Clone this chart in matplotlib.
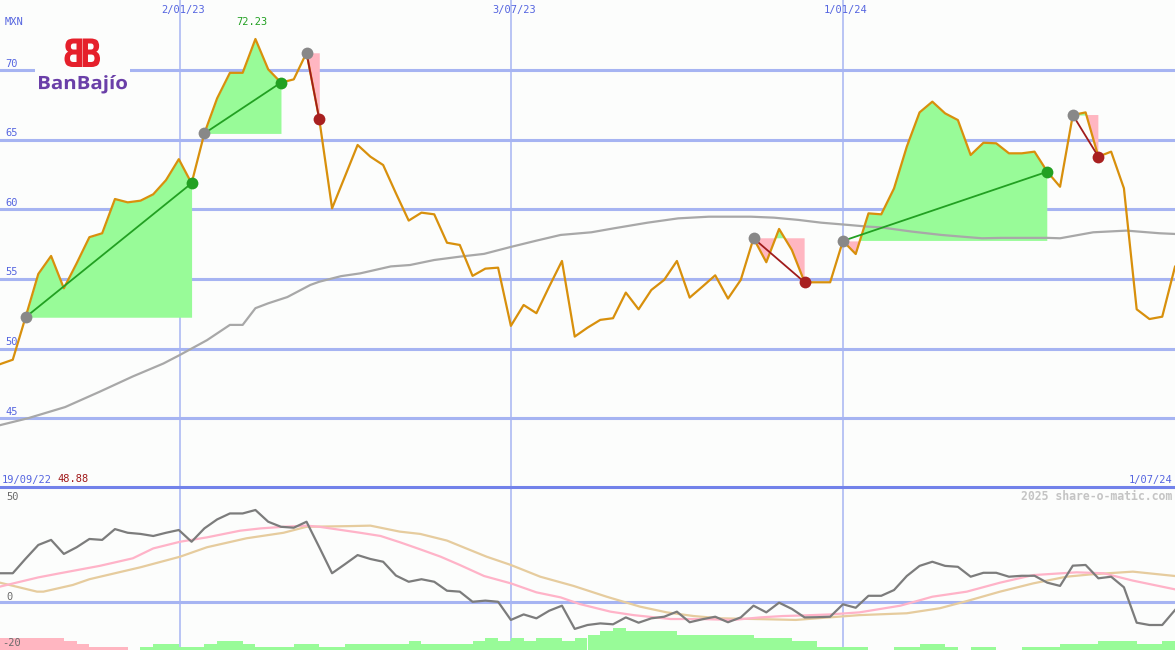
import matplotlib.pyplot as plt
import numpy as np
from matplotlib.textpath import TextPath
from matplotlib.font_manager import FontProperties
from matplotlib.patches import PathPatch, Rectangle
from matplotlib.transforms import Affine2D

# weekly closing prices (MXN), 19/09/22 .. 1/07/24
price = [48.88, 49.2, 52.25, 55.36, 56.65, 54.33, 56.12, 58.0, 58.28, 60.74,
         60.5, 60.62, 61.08, 62.1, 63.6, 61.87, 65.45, 67.97, 69.8, 69.8,
         72.23, 70.05, 69.1, 69.33, 71.24, 66.46, 60.07, 62.34, 64.62, 63.78,
         63.18, 61.15, 59.19, 59.76, 59.64, 57.6, 57.44, 55.22, 55.74, 55.81,
         51.63, 53.13, 52.54, 54.45, 56.29, 50.86, 51.5, 52.06, 52.18, 54.02,
         52.82, 54.21, 54.93, 56.29, 53.66, 54.45, 55.26, 53.59, 54.93, 57.92,
         56.2, 58.59, 57.08, 54.76, 54.76, 54.76, 57.73, 56.79, 59.71, 59.64,
         61.5, 64.5, 66.96, 67.73, 66.89, 66.41, 63.9, 64.78, 64.74, 64.02,
         64.02, 64.14, 62.7, 61.62, 66.77, 66.96, 63.78, 64.14, 61.51, 52.82,
         52.12, 52.29, 55.88]

# long moving average (read at these week positions)
ma_weeks = [0, 2.2, 5.1, 7.8, 10.4, 12.8, 14.1, 16.2, 18, 19, 20, 21, 22.5, 24.3,
            25, 26.7, 28.2, 30.6, 32.1, 34, 36, 37.9, 40, 42, 43.9, 46.3, 48.1,
            50.7, 53.1, 55.5, 58.8, 60.6, 62.5, 64.3, 66.4, 67.9, 69, 71.4, 73.7,
            75.8, 76.9, 78.4, 82, 83, 85.6, 88.2, 90.8, 92]
ma_vals = [44.5, 45.0, 45.8, 46.9, 48.0, 48.93, 49.55, 50.6, 51.7, 51.7, 52.9,
           53.25, 53.7, 54.57, 54.8, 55.2, 55.4, 55.9, 56.0, 56.36, 56.6, 56.8,
           57.3, 57.75, 58.16, 58.35, 58.64, 59.04, 59.35, 59.47, 59.47, 59.4,
           59.24, 59.04, 58.88, 58.76, 58.7, 58.4, 58.16, 58.0, 57.92, 57.95,
           57.95, 57.92, 58.35, 58.47, 58.28, 58.23]

# trades: entry / exit week index
trade_entry = [2, 16, 24, 59, 66, 84]
trade_exit = [15, 22, 25, 63, 82, 86]

# lower panel oscillator
osc = [12.5, 12.5, 18.8, 24.8, 27.0, 20.9, 23.8, 27.4, 27.0, 31.7,
       30.1, 29.6, 28.7, 30.1, 31.3, 26.2, 32.0, 35.9, 38.5, 38.5,
       40.0, 34.9, 32.7, 32.3, 34.9, 23.8, 12.5, 16.4, 20.4, 18.7,
       17.5, 11.5, 8.8, 9.9, 8.8, 4.9, 4.5, 0.1, 0.6, 0.1,
       -7.8, -5.4, -7.1, -3.8, -1.6, -11.7, -10.0, -9.3, -9.7, -6.7,
       -9.0, -7.1, -6.4, -4.2, -8.8, -7.5, -6.4, -8.8, -6.7, -1.6,
       -4.5, -0.3, -3.0, -6.7, -6.6, -6.4, -1.0, -2.5, 2.7, 2.7,
       5.2, 11.3, 15.7, 17.5, 15.7, 15.3, 11.0, 12.7, 12.7, 11.0,
       11.4, 11.4, 8.4, 7.0, 15.8, 16.1, 10.3, 11.0, 6.4, -9.0,
       -10.0, -10.0, -3.5]

sig_weeks = [0, 3, 4.7, 7.8, 10.4, 12, 14.1, 16.2, 18.8, 20.4, 22.2, 24, 25,
             28.2, 29.8, 31.3, 32.9, 34.5, 36, 37.9, 40, 42, 43.9, 45.4, 47.8,
             49.6, 52.5, 54.8, 57.4, 59.5, 61.3, 62.6, 65, 67.3, 70.5, 73, 75.7,
             78.3, 80.9, 84.3, 86.4, 88.7, 92]
sig_vals = [6.7, 10.7, 12.5, 15.7, 19.0, 23.3, 26.2, 28.1, 31.0, 32.0, 32.7,
            33.2, 32.7, 30.1, 28.7, 26.0, 22.9, 19.7, 16.1, 11.3, 8.1, 4.2, 2.0,
            -0.9, -4.2, -5.7, -7.4, -7.4, -7.8, -6.7, -6.1, -5.9, -5.4, -4.5,
            -1.6, 2.3, 4.5, 8.4, 11.7, 12.9, 12.5, 9.3, 5.5]

slow_weeks = [0, 2.9, 3.4, 5.7, 7, 11, 14.1, 16.2, 19.3, 22.2, 24, 27.4, 29,
              31.3, 32.9, 35, 36.5, 38.1, 40, 42.3, 44.9, 47.5, 50.1, 52.2,
              54.3, 56.4, 60, 62.3, 67.3, 71, 73.6, 75.7, 78.3, 80.9, 83.5,
              85.4, 88.7, 92]
slow_vals = [8.4, 4.5, 4.5, 7.4, 9.9, 15.1, 19.7, 23.8, 27.7, 30.1, 32.7, 33.0,
             33.2, 30.6, 29.6, 26.7, 23.3, 19.7, 16.1, 11.0, 7.0, 2.3, -2.0,
             -4.5, -6.1, -7.1, -7.5, -7.8, -5.7, -4.9, -2.7, 0.4, 4.5, 8.1,
             11.0, 12.0, 13.2, 11.3]

# histogram (negative = pink, positive = green)
hist = [-5.2, -5.2, -5.2, -5.2, -5.2, -3.9, -2.7, -1.3, -1.3, -1.3,
        0, 1.3, 2.7, 2.7, 1.3, 1.3, 2.7, 3.9, 3.9, 2.7,
        1.3, 1.3, 1.3, 2.7, 2.7, 1.3, 1.3, 2.7, 2.7, 2.7,
        2.7, 2.7, 3.9, 2.7, 2.7, 2.7, 2.7, 3.9, 5.2, 3.9,
        5.2, 3.9, 5.2, 5.2, 3.9, 5.2, 6.5, 8.3, 9.7, 8.3,
        8.3, 8.3, 8.3, 6.5, 6.5, 6.5, 6.5, 6.5, 6.5, 5.2,
        5.2, 5.2, 3.9, 3.9, 1.3, 1.3, 1.3, 1.3, 0, 0,
        1.3, 1.3, 2.7, 2.7, 1.3, 0, 1.3, 1.3, 0, 0,
        1.3, 1.3, 1.3, 2.7, 2.7, 2.7, 3.9, 3.9, 3.9, 2.7,
        2.7, 3.9]

date_pos = [14.1, 40.0, 66.0]
date_labels = ['2/01/23', '3/07/23', '1/01/24']
price_ticks = [45, 50, 55, 60, 65, 70]

W, H = 1175, 650
bg = '#fcfdfc'
gridc = '#a6b4f2'
sepc = '#7282ea'
blue = '#5565e0'
mono = 'DejaVu Sans Mono'

weeks = np.arange(len(price))
price_a = np.array(price)

fig = plt.figure(figsize=(11.75, 6.5), dpi=100)
fig.patch.set_facecolor(bg)

ax = fig.add_axes([0, 163 / H, 1, 487 / H])
ax.set_xlim(0, 92)
ax.set_ylim(40.06, 75.03)
ax.axis('off')

axl = fig.add_axes([0, 0, 1, 163 / H])
axl.set_xlim(0, 92)
axl.set_ylim(-20.87, 50)
axl.axis('off')

ov = fig.add_axes([0, 0, 1, 1], zorder=5)
ov.set_xlim(0, W)
ov.set_ylim(H, 0)
ov.axis('off')

# grid
for v in price_ticks:
    ax.axhline(v, color=gridc, lw=2.2, zorder=1)
    ax.text(0.4, v + 0.25, str(v), color=blue, fontsize=7.5, family=mono, va='baseline')
for p in date_pos:
    ax.axvline(p, color=gridc, lw=1.1, zorder=1)
    axl.axvline(p, color=gridc, lw=1.1, zorder=1)
axl.axhline(0, color=gridc, lw=2.2, zorder=1)
axl.axhline(50, color=sepc, lw=2.2, zorder=6, clip_on=False)

# trades
for a, b in zip(trade_entry, trade_exit):
    xs = weeks[a:b + 1]
    ps = price_a[a:b + 1]
    e = price[a]
    ax.fill_between(xs, ps, e, where=ps >= e, interpolate=True, color='#98fb98', lw=0, zorder=2)
    ax.fill_between(xs, ps, e, where=ps <= e, interpolate=True, color='#ffb6c1', lw=0, zorder=2)
    win = price[b] > e
    ax.plot([a, b], [e, price[b]], color='#22a022' if win else '#a01c1c', lw=1.3, zorder=5)

ax.plot(ma_weeks, ma_vals, color='#a8a8a8', lw=1.6, zorder=3)
ax.plot(weeks, price, color='#d8900c', lw=1.6, zorder=4)

for a, b in zip(trade_entry, trade_exit):
    ax.plot(a, price[a], 'o', ms=8.5, color='#888888', mec='none', zorder=6)
    ax.plot(b, price[b], 'o', ms=8.5, color='#22a022' if price[b] > price[a] else '#a82020',
            mec='none', zorder=6)

# lower panel
hcol = ['#98fb98' if h > 0 else '#ffb6c1' for h in hist]
axl.bar(np.arange(len(hist)), np.abs(hist), width=1.0, align='edge', bottom=-20.87,
        color=hcol, lw=0, zorder=2)
axl.plot(slow_weeks, slow_vals, color='#e6cc9e', lw=1.6, zorder=3)
axl.plot(sig_weeks, sig_vals, color='#ffb3c8', lw=1.6, zorder=4)
axl.plot(weeks, osc, color='#7c7c7c', lw=1.6, zorder=5)

# texts
px = W / 92
ov.text(5, 25, 'MXN', color=blue, fontsize=7.5, family=mono)
for p, lab in zip(date_pos, date_labels):
    ov.text(p * px + 3, 13, lab, color=blue, fontsize=7.5, family=mono, ha='center')
imax = int(np.argmax(price))
ov.text(imax * px - 4, 25, f'{max(price):.2f}', color='#22a022', fontsize=7.5,
        family=mono, ha='center')
ov.text(2, 482.5, '19/09/22', color=blue, fontsize=7.5, family=mono)
ov.text(57, 482.5, f'{price[0]:.2f}', color='#a01818', fontsize=7.5, family=mono)
ov.text(1172, 482.5, '1/07/24', color=blue, fontsize=7.5, family=mono, ha='right')
ov.text(1172, 499.5, '2025 share-o-matic.com', color='#c4c4c4', fontsize=8.3,
        family=mono, weight='bold', ha='right')
ov.text(6, 499.5, '50', color='#6a6a6a', fontsize=7.5, family=mono)
ov.text(6, 599.5, '0', color='#6a6a6a', fontsize=7.5, family=mono)
ov.text(2, 646, '-20', color='#6a6a6a', fontsize=7.5, family=mono)

# logo
ov.add_patch(Rectangle((35, 33), 95, 66, color=bg, lw=0, zorder=1))


def glyphs(s, left, top, width, height, color, fp, mirror=False):
    tp = TextPath((0, 0), s, size=1, prop=fp)
    bb = tp.get_extents()
    sx, sy = width / bb.width, height / bb.height
    if mirror:
        t = Affine2D().translate(-bb.x1, -bb.y1).scale(-sx, -sy).translate(left, top)
    else:
        t = Affine2D().translate(-bb.x0, -bb.y1).scale(sx, -sy).translate(left, top)
    ov.add_patch(PathPatch(t.transform_path(tp), fc=color, ec='none', zorder=2))


fpb = FontProperties(family='DejaVu Sans', weight='bold')
glyphs('B', 64.5, 38.5, 17.5, 28.5, '#e5202b', fpb, mirror=True)
glyphs('B', 82.5, 38.5, 17.5, 28.5, '#e5202b', fpb)
glyphs('BanBajío', 39, 75, 88, 18.5, '#6a3fa8', FontProperties(family='Open Sans', weight='bold'))

fig.savefig('out.png', dpi=100, facecolor=bg)
